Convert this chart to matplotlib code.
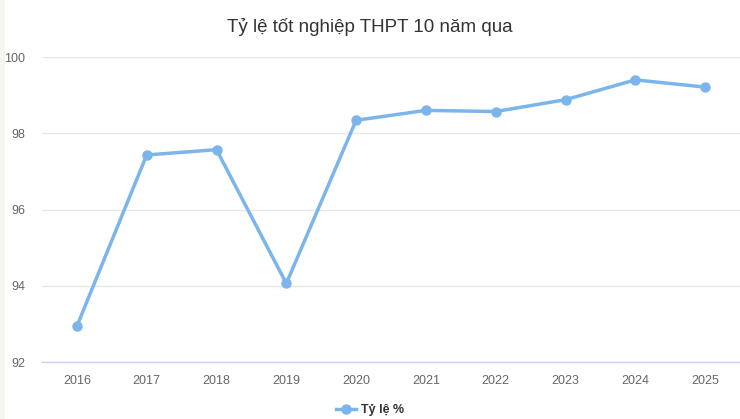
import matplotlib
matplotlib.use('Agg')
import matplotlib.pyplot as plt
from matplotlib.lines import Line2D
from matplotlib.patches import Rectangle

years = ['2016', '2017', '2018', '2019', '2020', '2021', '2022', '2023', '2024', '2025']
rates = [92.94, 97.43, 97.57, 94.06, 98.34, 98.60, 98.57, 98.88, 99.40, 99.21]
yticks = [92, 94, 96, 98, 100]

plt.rcParams['font.family'] = ['Liberation Sans', 'DejaVu Sans']

fig = plt.figure(figsize=(7.4, 4.19), dpi=100)
fig.patch.set_facecolor('white')
# beige strip at the left edge
fig.patches.append(Rectangle((0, 0), 5 / 740, 1, transform=fig.transFigure,
                             facecolor='#f7f5ef', edgecolor='none'))

ax = fig.add_axes([42 / 740, 1 - 362 / 419, 698 / 740, 305 / 419])
x = list(range(len(years)))
ax.plot(x, rates, color='#7cb5ec', linewidth=2.5, marker='o', markersize=6.5,
        solid_joinstyle='round', zorder=3, clip_on=False)

ax.set_xlim(-0.5, len(years) - 0.5)
ax.set_ylim(92, 100)
ax.set_yticks(yticks)
ax.set_yticklabels([str(v) for v in yticks])
ax.set_xticks(x)
ax.set_xticklabels(years)
ax.tick_params(axis='both', length=0, labelsize=9, labelcolor='#666666')
ax.tick_params(axis='x', pad=9)
ax.tick_params(axis='y', pad=12)
ax.grid(axis='y', color='#e6e6e6', linewidth=1)
ax.set_axisbelow(True)
for s in ['top', 'right', 'left']:
    ax.spines[s].set_visible(False)
ax.spines['bottom'].set_color('#ccd6eb')
ax.spines['bottom'].set_linewidth(1)

fig.text(0.5, 1 - 27 / 419, 'Tỷ lệ tốt nghiệp THPT 10 năm qua', ha='center', va='center',
         fontsize=13.5, color='#333333')

handle = Line2D([], [], color='#7cb5ec', linewidth=2.5, marker='o', markersize=6.5)
fig.legend([handle], ['Tỷ lệ %'], loc='center', bbox_to_anchor=(0.5, 1 - 410 / 419),
           frameon=False, handlelength=1.6, handletextpad=0.4,
           prop={'weight': 'bold', 'size': 9}, labelcolor='#333333')

plt.savefig('out.png', dpi=100)
